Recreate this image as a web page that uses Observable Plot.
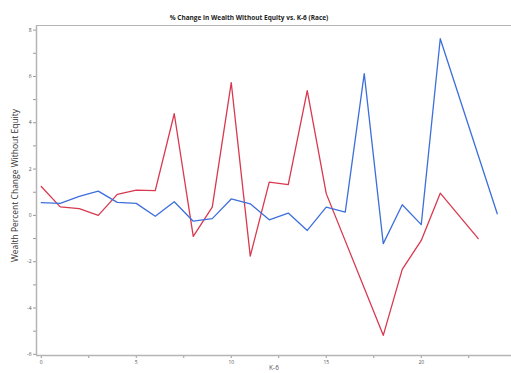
<!DOCTYPE html>
<html>
<head>
<meta charset="utf-8">
<script src="https://cdn.jsdelivr.net/npm/d3@7"></script>
<script src="https://cdn.jsdelivr.net/npm/@observablehq/plot@0.6"></script>
<style>
  html, body { margin: 0; padding: 0; background: #fff; }
  #chart { width: 511px; height: 373px; overflow: hidden; }
</style>
</head>
<body>
<div id="chart"></div>
<script>
const title = "% Change in Wealth Without Equity vs. K-6 (Race)";
const xLabel = "K-6";
const yLabel = "Wealth Percent Change Without Equity";

const blueX = [0, 1, 2, 3, 4, 5, 6, 7, 8, 9, 10, 11, 12, 13, 14, 15, 16, 17, 18, 19, 20, 21, 24];
const blueY = [0.55, 0.52, 0.82, 1.05, 0.56, 0.52, -0.04, 0.59, -0.25, -0.14, 0.71, 0.50, -0.19, 0.10, -0.65, 0.36, 0.14, 6.12, -1.22, 0.46, -0.40, 7.63, 0.07];

const redX = [0, 1, 2, 3, 4, 5, 6, 7, 8, 9, 10, 11, 12, 13, 14, 15, 18, 19, 20, 21, 23];
const redY = [1.25, 0.37, 0.29, 0.00, 0.91, 1.09, 1.07, 4.39, -0.91, 0.36, 5.73, -1.76, 1.44, 1.33, 5.39, 0.94, -5.18, -2.33, -1.08, 0.96, -1.00];

const yTicks = [-6, -5, -4, -3, -2, -1, 0, 1, 2, 3, 4, 5, 6, 7, 8];
const xTicks = [0, 2.5, 5, 7.5, 10, 12.5, 15, 17.5, 20, 22.5];

const blue = blueX.map((x, i) => ({x, y: blueY[i]}));
const red = redX.map((x, i) => ({x, y: redY[i]}));

const xDom = [-0.25, 24.75];
const yDom = [-6.05, 8.2];

const chart = Plot.plot({
  width: 511,
  height: 373,
  marginLeft: 36,
  marginRight: 0,
  marginTop: 25,
  marginBottom: 18,
  style: {fontFamily: "'Open Sans', sans-serif", background: "#fff"},
  x: {domain: xDom},
  y: {domain: yDom},
  marks: [
    Plot.axisY({ticks: yTicks, tickSize: 3, tickPadding: 2, fontSize: 5, stroke: "#999", color: "#555",
      tickFormat: d => d % 2 === 0 ? String(d) : "", label: null}),
    Plot.axisX({ticks: xTicks, tickSize: 3, tickPadding: 2, fontSize: 5, stroke: "#999", color: "#555",
      tickFormat: d => d % 5 === 0 ? String(d) : "", label: null}),
    Plot.ruleX([xDom[0]], {stroke: "#b5b5b5", strokeWidth: 1.5}),
    Plot.ruleY([yDom[0]], {stroke: "#b5b5b5", strokeWidth: 1.5}),
    Plot.ruleY([yDom[1]], {stroke: "#b5b5b5", strokeWidth: 1}),
    Plot.line(red, {x: "x", y: "y", stroke: "#d8394f", strokeWidth: 1.3}),
    Plot.line(blue, {x: "x", y: "y", stroke: "#3d6fdc", strokeWidth: 1.3}),
    Plot.text([title], {frameAnchor: "top", dy: -10, dx: -25, text: d => d, fontSize: 6.5, fontWeight: "bold", fill: "#222"}),
    Plot.text([yLabel], {frameAnchor: "left", textAnchor: "middle", dx: -21, dy: -5, rotate: -90, text: d => d, fontSize: 8.5, fill: "#333"}),
    Plot.text([xLabel], {frameAnchor: "bottom", dy: 14, text: d => d, fontSize: 6.5, fill: "#555"})
  ]
});
document.getElementById("chart").appendChild(chart);
</script>
</body>
</html>
